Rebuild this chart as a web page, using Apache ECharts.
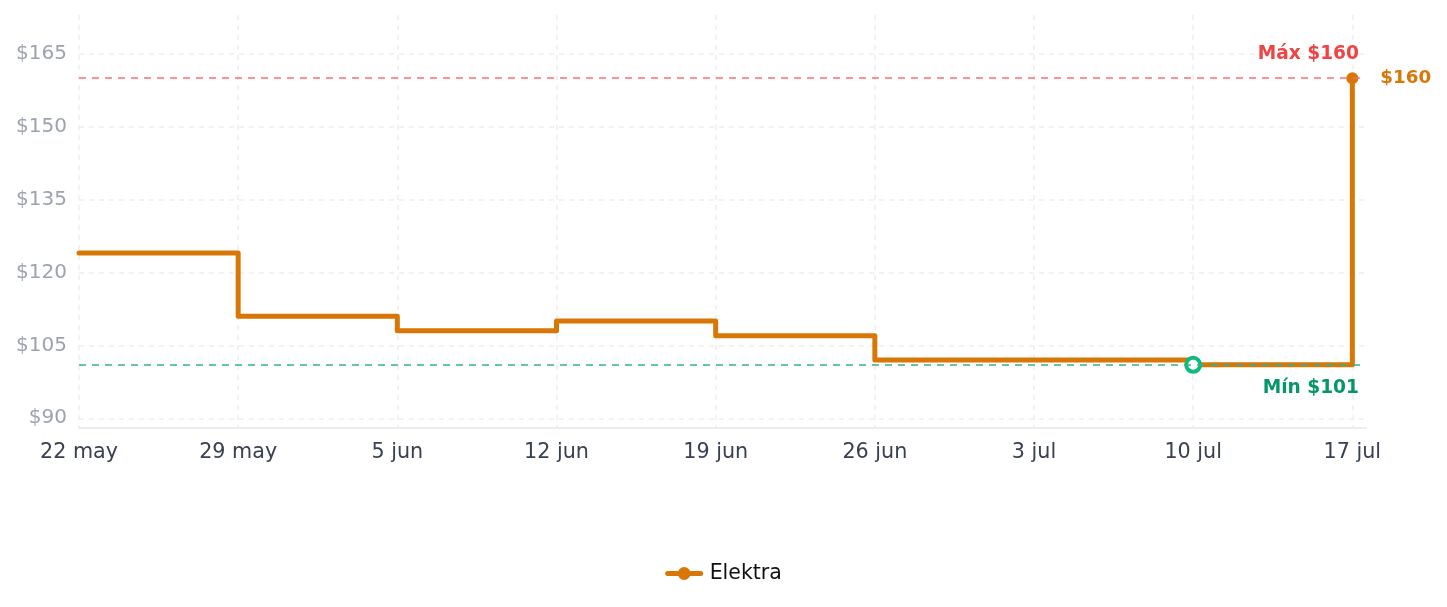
<!DOCTYPE html>
<html>
<head>
<meta charset="utf-8">
<title>Elektra</title>
<script src="https://cdn.jsdelivr.net/npm/echarts@6/dist/echarts.min.js"></script>
<style>
  html, body { margin: 0; padding: 0; background: #fff; }
  #chart { width: 1447px; height: 607px; }
</style>
</head>
<body>
<div id="chart"></div>
<script>
// price changes (step line, value holds until next date)
const startDate = '2025-05-22'
const changeDates = ['2025-05-22', '2025-05-29', '2025-06-05', '2025-06-12', '2025-06-19', '2025-06-26', '2025-07-10', '2025-07-17']
const prices = [124, 111, 108, 110, 107, 102, 101, 160]
const xTicks = [0, 7, 14, 21, 28, 35, 42, 49, 56]
const xLabels = ['22 may', '29 may', '5 jun', '12 jun', '19 jun', '26 jun', '3 jul', '10 jul', '17 jul']
const yTicks = [90, 105, 120, 135, 150, 165]

const DAY = 86400000
const dayIndex = d => (Date.parse(d) - Date.parse(startDate)) / DAY

const maxPrice = Math.max(...prices)
const minPrice = Math.min(...prices)
const minIdx = prices.indexOf(minPrice)
const lastIdx = prices.length - 1

const seriesData = changeDates.map((d, i) => {
  let item = { value: [dayIndex(d), prices[i]], symbol: 'none' }
  if (i === minIdx) {
    item.symbol = 'circle'
    item.symbolSize = 14
    item.itemStyle = { color: '#ffffff', borderColor: '#10b981', borderWidth: 4 }
  }
  if (i === lastIdx) {
    item.symbol = 'circle'
    item.symbolSize = 12
    item.label = {
      show: true,
      position: 'right',
      distance: 22,
      formatter: p => '$' + p.value[1],
      color: '#d97706',
      fontWeight: 'bold',
      fontSize: 18.3,
      fontFamily: 'DejaVu Sans'
    }
  }
  return item
})

const chart = echarts.init(document.getElementById('chart'))
chart.setOption({
  animation: false,
  textStyle: { fontFamily: 'DejaVu Sans' },
  grid: { left: 79, right: 81, top: 15, bottom: 179, containLabel: false },
  legend: {
    bottom: 18,
    left: 'center',
    itemWidth: 33,
    itemHeight: 16,
    lineStyle: { width: 5 },
    textStyle: { color: '#111111', fontSize: 20.5, fontFamily: 'DejaVu Sans', padding: [0, 0, 0, 4] },
    data: ['Elektra']
  },
  xAxis: {
    type: 'value',
    min: 0,
    max: 56.6,
    axisLine: { show: true, lineStyle: { color: '#e5e7eb', width: 1.5 } },
    axisTick: { show: false, customValues: xTicks },
    axisLabel: {
      customValues: xTicks,
      margin: 14,
      color: '#374151',
      fontSize: 20.7,
      fontFamily: 'DejaVu Sans',
      formatter: v => xLabels[xTicks.indexOf(Math.round(v))] || ''
    },
    splitLine: { show: true, lineStyle: { color: '#eeeeee', width: 1.5, type: [5, 5] } }
  },
  yAxis: {
    type: 'value',
    min: 88,
    max: 173,
    axisLine: { show: false },
    axisTick: { show: false, customValues: yTicks },
    axisLabel: {
      customValues: yTicks,
      margin: 12,
      color: '#9ca3af',
      fontSize: 20,
      fontFamily: 'DejaVu Sans',
      formatter: v => '$' + v
    },
    splitLine: { show: true, lineStyle: { color: '#eeeeee', width: 1.5, type: [5, 5] } }
  },
  series: [{
    name: 'Elektra',
    type: 'line',
    step: 'end',
    data: seriesData,
    symbol: 'circle',
    symbolSize: 10,
    itemStyle: { color: '#d97706' },
    lineStyle: { color: '#d97706', width: 5, join: 'round', cap: 'round' },
    markLine: {
      silent: true,
      symbol: 'none',
      data: [
        {
          yAxis: maxPrice,
          lineStyle: { color: '#f87171', type: [7, 6], width: 1.5 },
          label: {
            formatter: 'Máx $' + maxPrice,
            position: 'insideEndTop',
            distance: [7, 14],
            color: '#ef4444',
            fontWeight: 'bold',
            fontSize: 18.6,
            fontFamily: 'DejaVu Sans'
          }
        },
        {
          yAxis: minPrice,
          lineStyle: { color: '#34b38a', type: [7, 6], width: 1.5 },
          label: {
            formatter: 'Mín $' + minPrice,
            position: 'insideEndBottom',
            distance: [7, 14],
            color: '#059669',
            fontWeight: 'bold',
            fontSize: 18.6,
            fontFamily: 'DejaVu Sans'
          }
        }
      ]
    }
  }]
})
</script>
</body>
</html>
